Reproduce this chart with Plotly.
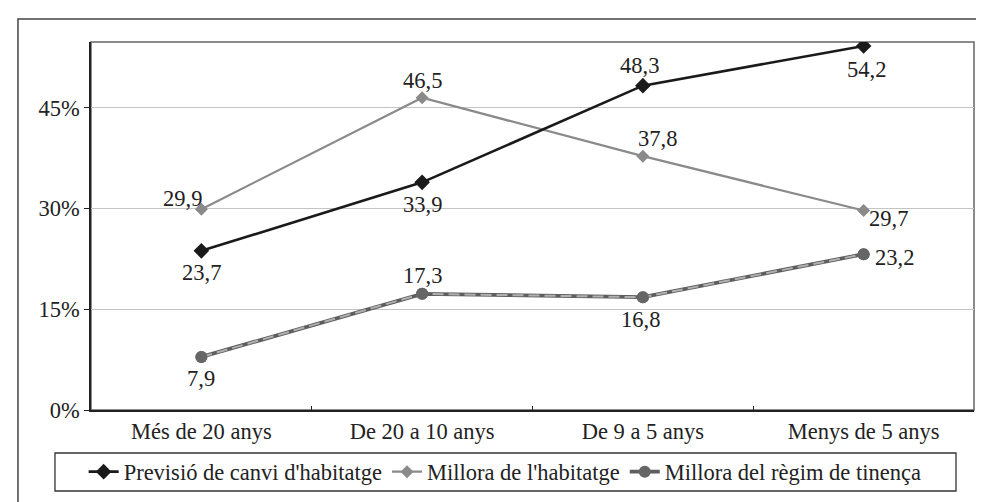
import plotly.graph_objects as go

categories = ["Més de 20 anys", "De 20 a 10 anys", "De 9 a 5 anys", "Menys de 5 anys"]

previsio = [23.7, 33.9, 48.3, 54.2]
millora_habitatge = [29.9, 46.5, 37.8, 29.7]
millora_regim = [7.9, 17.3, 16.8, 23.2]

y_ticks = [0, 15, 30, 45]
y_tick_labels = ["0%", "15%", "30%", "45%"]

FONT = "Liberation Serif"
FS = 22.5

# desplaçament (px) de cada etiqueta respecte del seu punt
off_previsio = [(0, -22), (0, -22), (-3, 20), (3, -23)]
off_habitatge = [(-19, 11), (0, 17), (15, 18), (25, -8)]
off_regim = [(0, -22), (0, 18), (-2, -22), (31, -3)]


def etiqueta(v):
    return f"{v:.1f}".replace(".", ",")


fig = go.Figure()

# Millora del règim de tinença: línia gruixuda fosca amb guions més clars
fig.add_trace(go.Scatter(
    x=categories, y=millora_regim,
    mode="lines+markers",
    name="Millora del règim de tinença",
    line=dict(color="#5e5e5e", width=3.8),
    marker=dict(symbol="circle", size=12, color="#666666"),
    legendrank=3,
))
fig.add_trace(go.Scatter(
    x=categories, y=millora_regim,
    mode="lines",
    line=dict(color="#b0b0b0", width=2, dash="11px,5px"),
    showlegend=False, hoverinfo="skip",
))
fig.add_trace(go.Scatter(
    x=categories, y=millora_regim,
    mode="markers",
    marker=dict(symbol="circle", size=12, color="#666666"),
    showlegend=False, hoverinfo="skip",
))

fig.add_trace(go.Scatter(
    x=categories, y=millora_habitatge,
    mode="lines+markers",
    name="Millora de l'habitatge",
    line=dict(color="#8a8a8a", width=2.2),
    marker=dict(symbol="diamond", size=10, color="#8a8a8a"),
    legendrank=2,
))

fig.add_trace(go.Scatter(
    x=categories, y=previsio,
    mode="lines+markers",
    name="Previsió de canvi d'habitatge",
    line=dict(color="#1a1a1a", width=2.6),
    marker=dict(symbol="diamond", size=12, color="#1a1a1a"),
    legendrank=1,
))

# etiquetes de valor
for serie, offs in [(previsio, off_previsio), (millora_habitatge, off_habitatge),
                    (millora_regim, off_regim)]:
    for cat, v, (dx, dy) in zip(categories, serie, offs):
        fig.add_annotation(x=cat, y=v, text=etiqueta(v), showarrow=False,
                           xanchor="center", yanchor="middle", xshift=dx, yshift=dy,
                           font=dict(family=FONT, size=FS, color="#222222"))

# marc exterior, marc de l'àrea del gràfic i caixa de la llegenda
fig.add_shape(type="rect", xref="paper", yref="paper",
              x0=-0.0827, x1=1.1, y0=-0.3, y1=1.0625,
              line=dict(color="#444444", width=1.5), layer="below")
fig.add_shape(type="rect", xref="paper", yref="paper",
              x0=0, x1=1, y0=0, y1=1,
              line=dict(color="#666666", width=1.5), layer="below")
fig.add_shape(type="rect", xref="paper", yref="paper",
              x0=-0.0408, x1=0.9796, y0=-0.2201, y1=-0.1168,
              line=dict(color="#333333", width=1.3), layer="below")

fig.update_layout(
    width=984, height=502,
    margin=dict(l=83, r=18, t=34, b=100),
    paper_bgcolor="white", plot_bgcolor="white",
    font=dict(family=FONT, size=FS, color="#222222"),
    showlegend=True,
    legend=dict(
        orientation="h", x=0.469, y=-0.1685, xanchor="center", yanchor="middle",
        borderwidth=0, bgcolor="rgba(0,0,0,0)",
        font=dict(family=FONT, size=FS, color="#222222"),
        itemwidth=30, traceorder="normal", tracegroupgap=0,
    ),
    xaxis=dict(
        showgrid=False, showline=True, linecolor="#222222", linewidth=1.5,
        ticks="inside", ticklen=4, tickcolor="#222222", tickson="boundaries",
        range=[-0.5, 3.5], tickfont=dict(family=FONT, size=FS),
    ),
    yaxis=dict(
        range=[0, 54.8], tickvals=y_ticks, ticktext=y_tick_labels,
        showgrid=True, gridcolor="#c4c4c4", gridwidth=1,
        showline=True, linecolor="#222222", linewidth=1.5,
        ticks="outside", ticklen=5, tickcolor="#222222",
        tickfont=dict(family=FONT, size=FS), zeroline=False,
    ),
)

fig.write_html("out.html")
